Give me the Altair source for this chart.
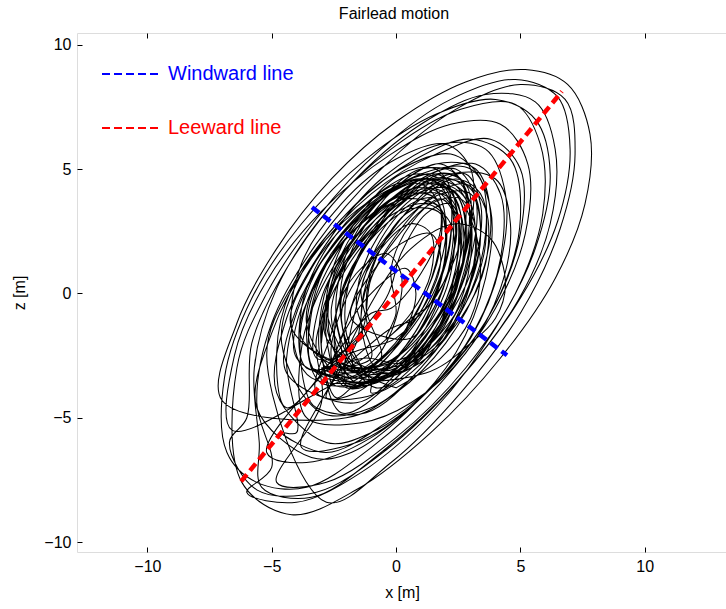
import altair as alt
import pandas as pd

TITLE = "Fairlead motion"
X_TICKS = [-10, -5, 0, 5, 10]
Z_TICKS = [-10, -5, 0, 5, 10]
X_DOMAIN = [-12.83, 13.31]
Z_DOMAIN = [-10.4, 10.47]

LINE_NAMES = ["Windward line", "Leeward line"]
LINE_COLORS = ["#0000ff", "#ff0000"]
WINDWARD_X = [-3.38, 4.46]
WINDWARD_Z = [3.46, -2.49]
LEEWARD_X = [-6.23, 6.67]
LEEWARD_Z = [-7.56, 8.12]

# fairlead trajectory, read loop by loop from the picture (x, z) in metres
SMALL_LOOPS = [
    [(-3.0, -2.0), (-2.6, 0.4), (-1.4, 2.6), (0.2, 4.0), (1.8, 4.4), (2.6, 3.2), (2.6, 0.8), (1.6, -1.6), (0.0, -3.2), (-1.6, -3.6), (-2.8, -3.0)],
    [(-2.4, -2.8), (-2.6, -0.6), (-1.8, 1.6), (-0.4, 3.4), (1.2, 4.4), (2.4, 4.0), (2.8, 2.2), (2.2, -0.2), (0.8, -2.4), (-0.8, -3.6), (-2.0, -3.6)],
    [(-3.6, -1.2), (-2.8, 1.2), (-1.2, 3.0), (0.6, 4.2), (2.0, 4.0), (2.4, 2.4), (1.8, 0.0), (0.4, -2.2), (-1.4, -3.4), (-3.0, -3.0)],
    [(-1.8, -3.0), (-2.2, -1.0), (-1.6, 1.2), (-0.2, 3.2), (1.4, 4.6), (2.6, 4.4), (3.0, 2.6), (2.6, 0.2), (1.4, -2.0), (0.0, -3.2), (-1.2, -3.6)],
    [(-4.0, -2.6), (-3.6, 0.0), (-2.2, 2.4), (-0.2, 4.2), (1.6, 4.8), (2.8, 3.8), (3.0, 1.4), (2.2, -1.2), (0.6, -3.2), (-1.4, -4.2), (-3.2, -4.0)],
    [(-2.6, -1.6), (-2.0, 0.6), (-0.8, 2.4), (0.6, 3.4), (1.8, 3.2), (2.0, 1.6), (1.4, -0.6), (0.2, -2.4), (-1.2, -3.0), (-2.4, -2.6)],
    [(-3.2, -3.2), (-3.4, -0.8), (-2.4, 1.6), (-0.8, 3.6), (0.8, 4.6), (2.0, 4.2), (2.2, 2.2), (1.4, -0.4), (0.0, -2.6), (-1.6, -4.0), (-2.8, -4.2)],
    [(-1.6, -2.0), (-1.2, 0.2), (0.0, 2.2), (1.4, 3.6), (2.6, 3.8), (3.2, 2.6), (3.0, 0.4), (2.0, -1.8), (0.6, -3.0), (-0.8, -3.2)],
    [(-3.8, -1.8), (-3.0, 0.8), (-1.4, 2.8), (0.4, 4.0), (1.6, 3.8), (1.8, 2.0), (1.0, -0.4), (-0.4, -2.4), (-2.0, -3.4), (-3.4, -3.0)],
    [(-2.2, -3.4), (-2.8, -1.2), (-2.2, 1.2), (-0.8, 3.0), (0.8, 4.0), (2.2, 3.8), (2.6, 1.8), (2.0, -0.8), (0.6, -2.8), (-0.8, -3.8)],
    [(-2.8, -0.6), (-1.6, 1.8), (0.0, 3.6), (1.6, 4.6), (3.0, 4.2), (3.4, 2.4), (2.8, 0.0), (1.4, -2.2), (-0.4, -3.4), (-2.0, -3.2)],
    [(-2.0, -2.4), (-2.2, -0.2), (-1.2, 2.0), (0.4, 3.8), (1.8, 4.8), (2.8, 4.4), (3.0, 2.6), (2.2, 0.0), (0.8, -2.0), (-0.6, -3.2), (-1.6, -3.2)],
    [(-3.4, -2.2), (-3.2, 0.2), (-2.0, 2.4), (-0.4, 4.0), (1.0, 4.4), (1.8, 3.4), (1.6, 1.2), (0.6, -1.2), (-0.8, -3.0), (-2.4, -3.6)],
    [(-1.2, -3.4), (-2.0, -1.6), (-1.8, 0.8), (-0.6, 3.0), (1.0, 4.6), (2.4, 5.0), (3.2, 3.8), (3.0, 1.4), (2.0, -1.0), (0.6, -2.8)],
    [(-3.0, -3.6), (-3.6, -1.6), (-3.0, 0.8), (-1.4, 2.8), (0.4, 3.8), (1.8, 3.4), (2.0, 1.6), (1.2, -0.8), (-0.2, -2.8), (-1.8, -3.8)],
    [(-2.6, -2.6), (-2.0, -0.2), (-0.6, 2.0), (1.0, 3.8), (2.4, 4.6), (3.4, 4.0), (3.6, 2.0), (2.8, -0.4), (1.2, -2.4), (-0.6, -3.4)],
    [(-4.2, -1.4), (-3.4, 1.0), (-1.8, 3.0), (0.0, 4.4), (1.4, 4.4), (2.0, 3.0), (1.6, 0.6), (0.4, -1.6), (-1.2, -3.0), (-3.0, -3.2)],
    [(-1.4, -1.6), (-1.0, 0.6), (0.2, 2.6), (1.6, 4.0), (2.8, 4.4), (3.6, 3.4), (3.6, 1.2), (2.6, -1.0), (1.0, -2.6), (-0.4, -3.0)],
    [(-2.8, -3.0), (-3.0, -0.6), (-2.0, 1.8), (-0.2, 3.6), (1.4, 4.2), (2.4, 3.2), (2.4, 1.0), (1.4, -1.4), (-0.2, -3.2), (-1.8, -3.8)],
]

TINY_LOOPS = [
    [(-1.2, -1.6), (-1.4, 0.2), (-0.6, 1.8), (0.6, 2.8), (1.4, 2.4), (1.4, 0.8), (0.6, -0.8), (-0.4, -1.8)],
    [(0.0, -0.8), (-0.2, 1.0), (0.6, 2.8), (1.8, 3.8), (2.4, 3.0), (2.2, 1.2), (1.4, -0.4), (0.6, -1.0)],
    [(-2.2, -2.6), (-2.4, -0.8), (-1.6, 0.8), (-0.4, 1.6), (0.2, 0.8), (0.0, -1.0), (-0.8, -2.6), (-1.6, -3.2)],
    [(-0.6, -2.6), (-1.2, -0.6), (-0.8, 1.4), (0.4, 3.2), (1.6, 3.6), (2.0, 2.2), (1.6, 0.0), (0.6, -1.8)],
    [(-1.8, -1.0), (-1.0, 0.8), (0.2, 2.0), (1.4, 2.4), (1.8, 1.4), (1.2, -0.4), (0.0, -1.8), (-1.2, -2.2)],
    [(-0.4, -0.2), (0.2, 1.6), (1.2, 3.2), (2.2, 3.6), (2.6, 2.4), (2.0, 0.6), (0.8, -1.0), (-0.2, -1.4)],
    [(-2.6, -3.2), (-2.0, -1.4), (-0.8, 0.2), (0.4, 1.0), (0.8, 0.0), (0.2, -1.8), (-1.0, -3.0), (-2.0, -3.6)],
    [(-1.4, 0.2), (-0.6, 2.2), (0.6, 3.6), (1.6, 3.8), (1.8, 2.6), (1.0, 0.8), (-0.2, -0.6), (-1.0, -0.8)],
]

CORE_LOOPS = [
    [(-2.2, -3.0), (-2.4, -0.8), (-1.4, 1.6), (0.0, 3.6), (1.6, 4.8), (2.6, 4.6), (2.8, 2.8), (2.2, 0.2), (1.0, -2.0), (-0.6, -3.4)],
    [(-1.6, -3.6), (-2.6, -2.0), (-2.6, 0.4), (-1.6, 2.6), (0.0, 4.2), (1.4, 4.6), (2.2, 3.6), (2.2, 1.4), (1.4, -1.0), (0.0, -3.0)],
    [(-0.8, -3.0), (-1.4, -1.2), (-1.0, 1.0), (0.2, 3.0), (1.6, 4.4), (2.8, 4.8), (3.4, 3.6), (3.2, 1.4), (2.2, -0.8), (0.8, -2.6)],
    [(-3.2, -2.6), (-3.0, -0.2), (-1.8, 2.0), (-0.2, 3.8), (1.2, 4.6), (2.2, 4.2), (2.4, 2.4), (1.8, 0.0), (0.4, -2.2), (-1.2, -3.6), (-2.6, -3.6)],
    [(-2.0, -1.2), (-1.2, 1.0), (0.2, 2.8), (1.8, 4.0), (3.0, 4.0), (3.4, 2.6), (3.0, 0.4), (1.8, -1.6), (0.2, -2.8), (-1.2, -2.6)],
    [(-3.6, -3.0), (-3.8, -0.6), (-2.8, 1.8), (-1.0, 3.8), (0.8, 4.8), (2.0, 4.4), (2.2, 2.4), (1.4, -0.2), (-0.2, -2.4), (-1.8, -3.8)],
    [(-1.0, -2.6), (-1.6, -0.4), (-1.0, 1.8), (0.4, 3.6), (1.8, 4.4), (2.8, 3.8), (3.0, 2.0), (2.4, -0.2), (1.0, -2.2), (-0.2, -3.2)],
    [(-2.8, -1.8), (-2.4, 0.6), (-1.0, 2.6), (0.8, 4.0), (2.2, 4.2), (2.8, 3.0), (2.6, 0.8), (1.4, -1.4), (-0.2, -3.0), (-1.8, -3.0)],
]

STEEP_LOOPS = [
    [(-2.0, -3.8), (-2.8, -1.8), (-2.6, 0.8), (-1.4, 3.2), (0.2, 4.8), (1.6, 5.0), (2.4, 3.6), (2.4, 1.0), (1.6, -1.6), (0.2, -3.4), (-1.0, -4.0)],
    [(-1.0, -3.6), (-2.0, -2.0), (-2.2, 0.4), (-1.2, 2.8), (0.4, 4.6), (1.8, 5.2), (2.8, 4.2), (2.8, 1.6), (1.8, -1.2), (0.6, -3.0)],
    [(-3.4, -3.4), (-4.2, -1.4), (-3.8, 1.2), (-2.2, 3.6), (0.0, 5.4), (2.0, 6.0), (3.0, 5.0), (3.0, 2.6), (2.0, -0.4), (0.2, -3.0), (-1.6, -4.4)],
    [(-2.4, -4.2), (-3.0, -2.2), (-2.6, 0.2), (-1.0, 2.6), (0.8, 4.0), (2.2, 4.2), (3.0, 3.0), (3.4, 1.0), (3.0, -1.0), (1.8, -2.6), (0.0, -3.8)],
    [(0.0, -3.8), (-1.6, -3.0), (-2.4, -1.0), (-2.0, 1.6), (-0.6, 3.8), (1.0, 5.0), (2.4, 4.8), (3.0, 3.0), (2.6, 0.4), (1.4, -2.0)],
    [(-2.0, -3.0), (-1.0, -0.4), (0.6, 1.8), (2.4, 2.8), (3.8, 2.2), (4.4, 0.4), (4.0, -1.0), (3.0, -2.0), (1.2, -3.2)],
    [(-4.4, -4.6), (-4.8, -2.4), (-4.2, 0.2), (-2.6, 2.4), (-0.6, 4.0), (1.2, 4.6), (2.4, 3.8), (2.6, 1.6), (1.8, -1.0), (0.0, -3.4), (-2.2, -4.8)],
    [(-3.0, -1.0), (-2.0, 1.2), (-0.4, 3.0), (1.2, 3.6), (2.2, 2.8), (2.2, 0.8), (1.2, -1.4), (-0.4, -2.8), (-2.0, -3.0)],
]

MEDIUM_LOOPS = [
    [(-4.4, -3.2), (-4.0, -0.6), (-2.6, 1.8), (-0.6, 3.8), (1.4, 4.6), (2.8, 4.0), (3.2, 2.0), (2.6, -0.6), (1.0, -3.0), (-1.0, -4.6), (-3.0, -4.8)],
    [(-4.6, -2.0), (-3.8, 0.8), (-2.0, 3.2), (0.2, 5.0), (2.2, 5.6), (3.4, 4.6), (3.6, 2.4), (2.8, -0.4), (1.0, -3.0), (-1.2, -4.8), (-3.2, -4.6)],
    [(-3.6, -4.0), (-3.8, -1.2), (-2.6, 1.6), (-0.6, 3.8), (1.6, 5.2), (3.2, 5.0), (3.8, 3.2), (3.4, 0.6), (2.0, -2.0), (0.0, -4.0), (-2.0, -5.0)],
    [(-3.0, -4.4), (-3.2, -1.8), (-2.0, 1.0), (0.0, 3.4), (2.2, 4.8), (4.0, 4.6), (4.6, 2.8), (4.2, 0.2), (2.8, -2.4), (0.6, -4.4), (-1.4, -5.2)],
    [(-3.6, -5.0), (-3.8, -2.2), (-2.8, 0.6), (-0.8, 3.2), (1.4, 4.8), (3.2, 5.2), (4.2, 4.0), (4.2, 1.4), (3.2, -1.4), (1.2, -4.0), (-1.0, -5.6), (-2.8, -6.0)],
    [(-4.8, -4.0), (-4.4, -1.0), (-2.8, 2.0), (-0.6, 4.6), (1.8, 6.0), (3.6, 5.8), (4.4, 4.0), (4.2, 1.2), (3.0, -1.8), (0.8, -4.4), (-1.6, -6.0), (-3.8, -6.2)],
    [(-5.2, -2.5), (-4.0, 0.6), (-1.8, 3.4), (0.8, 5.4), (3.0, 6.2), (4.6, 5.4), (5.0, 3.0), (4.2, 0.0), (2.2, -3.0), (-0.4, -5.2), (-2.8, -6.4), (-4.6, -5.6)],
    [(-4.0, -5.6), (-4.4, -2.6), (-3.4, 0.6), (-1.4, 3.2), (1.0, 4.8), (3.0, 5.0), (3.8, 3.4), (3.6, 0.6), (2.4, -2.4), (0.4, -4.8), (-1.8, -6.4), (-3.4, -6.6)],
    [(-5.6, -4.6), (-5.0, -1.6), (-3.4, 1.4), (-1.0, 4.0), (1.6, 5.6), (3.8, 6.2), (5.0, 5.0), (5.0, 2.4), (3.8, -0.8), (1.6, -3.6), (-1.0, -5.8), (-3.6, -6.8), (-5.2, -6.4)],
]

LARGE_LOOPS = [
    [(-7.0, -4.3), (-6.4, -1.2), (-4.8, 1.8), (-2.6, 4.6), (0.0, 6.9), (2.8, 8.5), (5.2, 9.0), (6.9, 8.4), (7.8, 6.4), (7.6, 3.6), (6.4, 0.6), (4.2, -2.6), (1.4, -5.6), (-1.6, -7.9), (-4.2, -8.9), (-6.2, -7.6)],
    [(-6.4, -3.0), (-5.2, 0.0), (-3.2, 3.0), (-0.6, 5.8), (2.2, 7.8), (4.8, 8.6), (6.5, 7.9), (7.0, 5.8), (6.5, 2.9), (5.0, -0.2), (2.6, -3.4), (-0.4, -6.3), (-3.2, -8.0), (-5.6, -7.9), (-6.7, -6.0)],
    [(-6.0, -5.0), (-5.8, -2.0), (-4.4, 1.0), (-2.0, 4.2), (1.0, 6.8), (3.6, 8.0), (5.6, 7.7), (6.4, 5.8), (6.2, 2.8), (4.9, -0.3), (2.5, -3.5), (-0.6, -6.4), (-3.4, -8.2), (-5.4, -7.8)],
    [(-5.5, -6.0), (-5.7, -3.0), (-4.8, 0.2), (-2.8, 3.3), (-0.2, 5.8), (2.6, 7.4), (4.8, 7.6), (5.8, 6.0), (5.9, 3.2), (4.8, 0.0), (2.8, -3.0), (0.0, -5.8), (-2.8, -7.6), (-4.8, -7.6)],
    [(-6.6, -5.5), (-6.5, -2.5), (-5.2, 0.5), (-3.0, 3.3), (-0.2, 5.6), (2.2, 6.8), (4.2, 6.8), (5.3, 5.2), (5.2, 2.4), (4.0, -0.6), (1.8, -3.6), (-1.0, -6.2), (-3.6, -7.8), (-5.6, -7.6)],
    [(-6.8, -6.4), (-6.9, -3.4), (-5.8, -0.2), (-3.8, 2.8), (-1.2, 5.4), (1.6, 7.2), (4.0, 7.8), (5.6, 7.0), (6.2, 4.8), (5.6, 1.8), (4.0, -1.4), (1.6, -4.6), (-1.4, -7.2), (-4.0, -8.4), (-6.0, -8.0)],
    [(-5.0, -7.0), (-5.6, -4.4), (-5.0, -1.2), (-3.2, 2.0), (-0.6, 5.0), (2.4, 7.4), (5.0, 8.4), (6.8, 7.8), (7.2, 5.6), (6.6, 2.6), (5.0, -0.8), (2.6, -4.0), (-0.2, -6.8), (-2.8, -8.4)],
]

# order in which the loops are traversed
LOOP_SEQUENCE = (
    SMALL_LOOPS[:6] + TINY_LOOPS[:2] + CORE_LOOPS[:3] + STEEP_LOOPS[:3] + MEDIUM_LOOPS[:3]
    + LARGE_LOOPS[:4] + MEDIUM_LOOPS[3:6] + TINY_LOOPS[2:5] + CORE_LOOPS[3:6] + STEEP_LOOPS[3:6]
    + SMALL_LOOPS[6:13] + LARGE_LOOPS[4:] + MEDIUM_LOOPS[6:] + TINY_LOOPS[5:]
    + STEEP_LOOPS[6:] + CORE_LOOPS[6:] + SMALL_LOOPS[13:]
)

rows = []
k = 0
for loop in LOOP_SEQUENCE:
    for px, pz in loop:
        rows.append({"x": px, "z": pz, "i": k})
        k += 1
traj_df = pd.DataFrame(rows)

guide_rows = []
for j in range(2):
    guide_rows.append({"name": LINE_NAMES[0], "x": WINDWARD_X[j], "z": WINDWARD_Z[j], "k": j})
    guide_rows.append({"name": LINE_NAMES[1], "x": LEEWARD_X[j], "z": LEEWARD_Z[j], "k": j})
guide_df = pd.DataFrame(guide_rows)

FONT = "Liberation Sans"
W, H = 650, 519

xscale = alt.Scale(domain=X_DOMAIN, nice=False, zero=False)
yscale = alt.Scale(domain=Z_DOMAIN, nice=False, zero=False)

xaxis = alt.Axis(
    values=X_TICKS, title="x [m]", domain=False, ticks=False, tickSize=0,
    labelPadding=6, labelFontSize=16, labelFont=FONT, labelColor="black",
    titleFont=FONT, titleFontSize=16, titleFontWeight="normal", titleColor="black",
    titlePadding=10, grid=True, gridColor="black", gridOpacity=1, gridWidth=1,
    gridDash=[5, H - 10, 5, 2000],
)
yaxis = alt.Axis(
    values=Z_TICKS, title="z [m]", domain=False, ticks=False, tickSize=0,
    labelPadding=6, labelFontSize=16, labelFont=FONT, labelColor="black",
    titleFont=FONT, titleFontSize=16, titleFontWeight="normal", titleColor="black",
    titlePadding=16, grid=True, gridColor="black", gridOpacity=1, gridWidth=1,
    gridDash=[5, 2000],
)

traj = alt.Chart(traj_df).mark_line(
    color="black", strokeWidth=1.05, interpolate="catmull-rom", clip=True
).encode(
    x=alt.X("x:Q", scale=xscale, axis=xaxis),
    y=alt.Y("z:Q", scale=yscale, axis=yaxis),
    order="i:Q",
)

guides = alt.Chart(guide_df).mark_line(
    strokeWidth=4.5, strokeDash=[9, 5], clip=True
).encode(
    x=alt.X("x:Q", scale=xscale),
    y=alt.Y("z:Q", scale=yscale),
    color=alt.Color(
        "name:N",
        scale=alt.Scale(domain=LINE_NAMES, range=LINE_COLORS),
        legend=alt.Legend(
            orient="none", legendX=24, legendY=11.5, title=None,
            symbolType="stroke", symbolSize=3249, symbolStrokeWidth=2,
            symbolDash=[8, 4], labelFont=FONT, labelFontSize=20, labelOffset=8,
            labelColor=alt.ExprRef(expr="datum.label === 'Windward line' ? '#0000ff' : '#ff0000'"),
            rowPadding=14, padding=0,
        ),
    ),
    detail="name:N",
    order="k:Q",
)

chart = alt.layer(traj, guides).properties(
    width=W,
    height=H,
    title=alt.Title(TITLE, fontSize=16, fontWeight="normal", font=FONT, color="black", offset=11, dx=-8),
    autosize=alt.AutoSizeParams(type="none"),
    padding={"left": 77, "top": 33, "right": -1, "bottom": 57},
).configure_view(
    stroke="black", strokeWidth=1
).configure(background="white")

chart.save("out.html", embed_options={"renderer": "svg", "actions": False})
